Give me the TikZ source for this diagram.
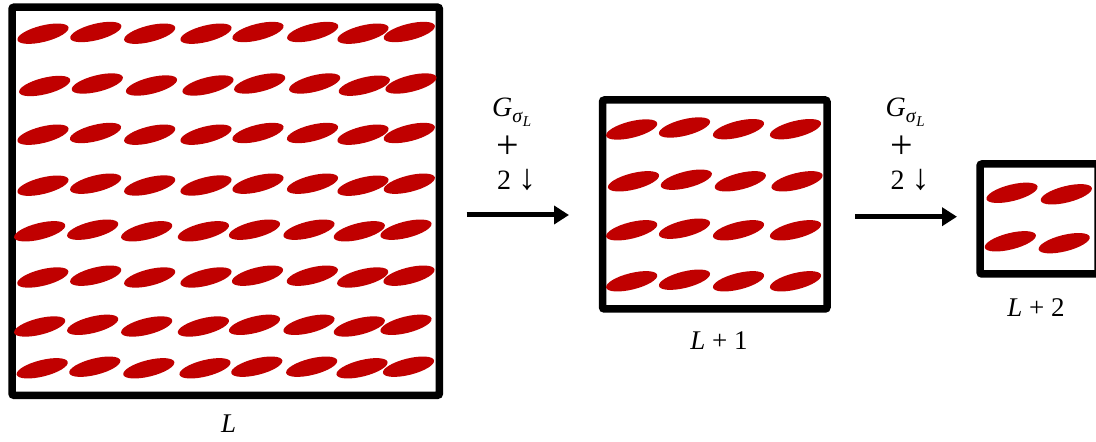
\documentclass[tikz,border=0pt]{standalone}
\usepackage{fontspec}
\setmainfont{Liberation Serif}
\usetikzlibrary{arrows.meta}
\definecolor{cellred}{RGB}{192,0,0}
\tikzset{
  cell/.style={fill=cellred},
  frame/.style={draw=black, line width=7.5pt, rounded corners=2pt, inner sep=0pt, fill=white},
  lab/.style={font=\fontsize{27}{30}\selectfont, inner sep=0pt, anchor=base},
  op/.style={font=\fontsize{28}{30}\selectfont, inner sep=0pt, anchor=base west},
  bigplus/.style={font=\fontsize{40}{44}\selectfont, inner sep=0pt, anchor=base west},
  flow/.style={line width=5pt, -{Triangle[length=15pt,width=18pt]}},
}
\newcommand\Gsig{\textit{G}\raisebox{-6pt}{\fontsize{20}{20}\selectfont\textit{σ}\raisebox{-4pt}{\fontsize{15}{15}\selectfont\textit{L}}}}
\newcommand\downtwo{2 {\fontsize{36}{36}\selectfont ↓}}
\newcommand\cellat[2]{\fill[cell, rotate around={14:(#1,442-#2)}] (#1,442-#2) ellipse [x radius=26.3, y radius=8.2];}
\begin{document}
\begin{tikzpicture}[x=1pt,y=1pt]
\useasboundingbox (0,0) rectangle (1096,442);
% frames
\node[frame, minimum width=427.4pt, minimum height=388.1pt] (big) at (225.7,442-201.25) {};
\node[frame, minimum width=224.5pt, minimum height=209pt] (mid) at (714.75,442-204.5) {};
\node[frame, minimum width=118pt, minimum height=110pt] (small) at (1039,442-219) {};
% cells of the big grid
\foreach \cx/\cy in {
  43/33.7, 95.8/32, 149.7/33.7, 206/33.7, 258/32, 312.7/32, 363/33.7, 409.3/32,
  44.7/86, 97.3/83.5, 151.5/85.5, 208/85.5, 259.7/83.5, 314.7/83.5, 364.3/85.7, 411/83.5,
  43/134.7, 95.5/133, 149.7/134.7, 206/134.7, 258/133, 312.5/133, 363/134.7, 409.3/133,
  43/185.7, 95.7/183.7, 149.7/185.5, 206/185.5, 258/183.7, 312.5/183.7, 363/185.7, 409.3/183.7,
  39.7/231.3, 92.7/229.7, 146.7/231.3, 203.4/231.3, 254.5/229.7, 309/229.7, 359.3/231.3, 406/229.7,
  42.8/277.5, 95.7/275.7, 149.7/277.5, 206/277.5, 257.5/275.7, 312.3/275.7, 362.7/277.5, 409/275.7,
  39.7/326.5, 92.7/324.8, 146.7/326.5, 203.4/326.5, 254.5/324.8, 309/324.8, 359.3/326.5, 406/324.8,
  42.2/368.3, 94.8/366.7, 148.8/368.3, 205/368.3, 256.8/366.7, 311.7/366.7, 362/368.3, 408.5/366.7}
  {\cellat{\cx}{\cy}}
% cells of the middle grid
\foreach \cx/\cy in {
  631.7/129.5, 684.5/127.5, 738.5/129.2, 795.5/129.2,
  633.5/181.3, 686.3/179.7, 740.3/181.3, 797/181.3,
  631.7/230.3, 684.5/228.7, 738.5/230.3, 795.5/230.3,
  631.7/281.3, 684.5/279.7, 738.5/281.3, 795.5/281.3}
  {\cellat{\cx}{\cy}}
% cells of the small grid
\foreach \cx/\cy in {1012/192.8, 1066.3/194.3, 1010.3/241.3, 1064.2/243.2}
  {\cellat{\cx}{\cy}}
% labels under frames
\node[lab] (lbig) at (228.7,442-433) {\textit{L}};
\node[lab] (lmid) at (719,442-350) {\textit{L} + 1};
\node[lab] (lsmall) at (1036,442-316.7) {\textit{L} + 2};
% arrows
\coordinate (a1s) at (466.7,442-215);
\coordinate (a1e) at (569,442-215);
\draw[flow] (a1s) -- (a1e);
\coordinate (a2s) at (855,442-216.7);
\coordinate (a2e) at (957,442-216.7);
\draw[flow] (a2s) -- (a2e);
% operation labels
\node[op] (g1) at (492,442-116.7) {\Gsig};
\node[bigplus] (p1) at (496.5,442-159) {+};
\node[op] (d1) at (497,442-190) {\downtwo};
\node[op] (g2) at (885.5,442-116.7) {\Gsig};
\node[bigplus] (p2) at (890,442-159) {+};
\node[op] (d2) at (890.5,442-190) {\downtwo};
\end{tikzpicture}
\end{document}
